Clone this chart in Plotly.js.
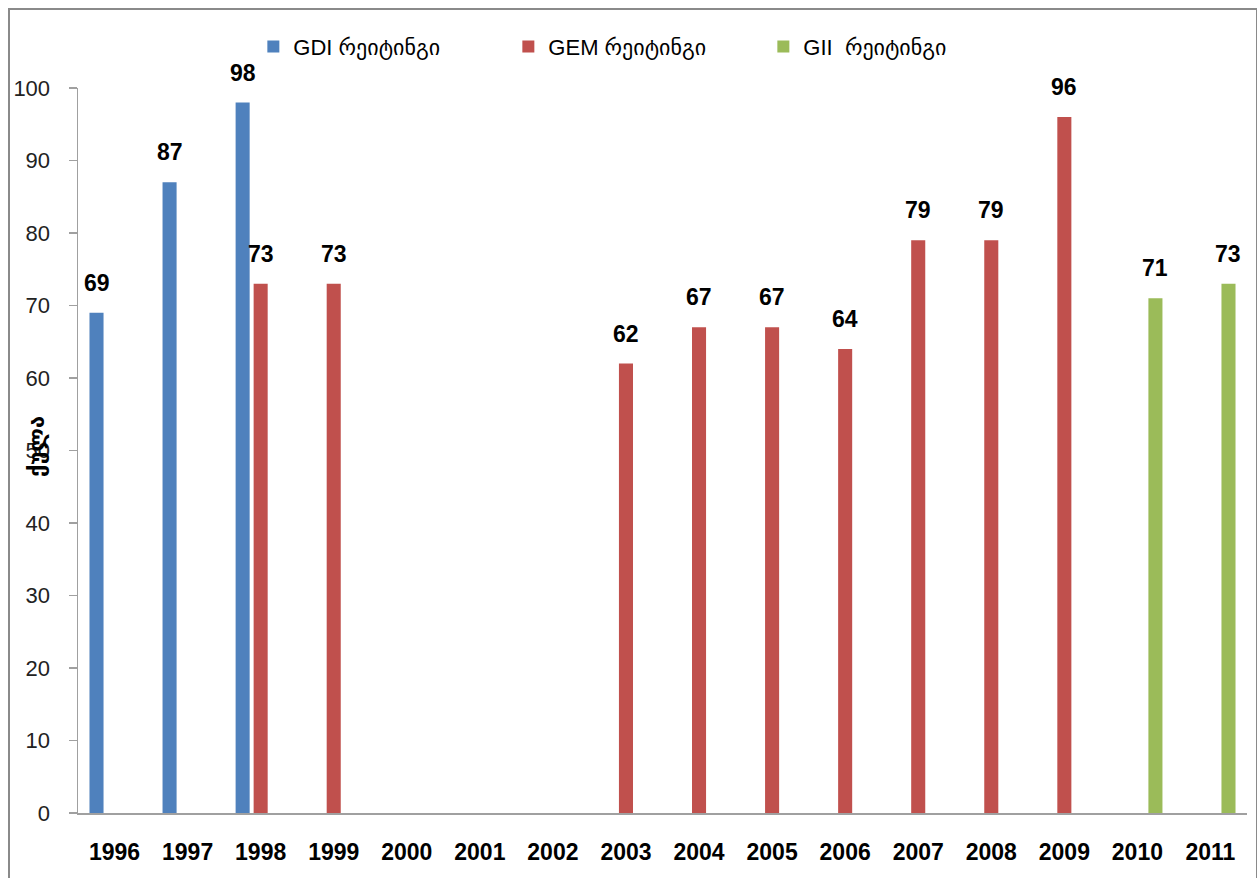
<!DOCTYPE html>
<html>
<head>
<meta charset="utf-8">
<script src="https://cdn.plot.ly/plotly-3.0.1.min.js"></script>
<style>
  html, body { margin: 0; padding: 0; background: #fff; overflow: hidden; }
  #chart { position: absolute; left: 0; top: 0; width: 1257px; height: 878px; }
  #frame { position: absolute; left: 8px; top: 8px; width: 1246px; height: 900px;
           border: 2px solid #8a8a8a; pointer-events: none; }
</style>
</head>
<body>
<div id="chart"></div>
<div id="frame"></div>
<script>
const years = ['1996','1997','1998','1999','2000','2001','2002','2003','2004','2005','2006','2007','2008','2009','2010','2011'];
const gdiValues = [69, 87, 98, null, null, null, null, null, null, null, null, null, null, null, null, null];
const gemValues = [null, null, 73, 73, null, null, null, 62, 67, 67, 64, 79, 79, 96, null, null];
const giiValues = [null, null, null, null, null, null, null, null, null, null, null, null, null, null, 71, 73];
const seriesNames = ['GDI რეიტინგი', 'GEM რეიტინგი', 'GII  რეიტინგი'];
const yTitle = 'ქულა';

const colors = ['#4F81BD', '#C0504D', '#9BBB59'];
const allSeries = [gdiValues, gemValues, giiValues];
const shifts = [-18, 0, 18];

const traces = allSeries.map((vals, i) => ({
  type: 'bar',
  name: seriesNames[i],
  x: years,
  y: vals,
  marker: { color: colors[i] },
  hoverinfo: 'x+y'
}));

const annotations = [];
allSeries.forEach((vals, i) => {
  vals.forEach((v, j) => {
    if (v !== null) {
      annotations.push({
        x: j, y: v, xref: 'x', yref: 'y',
        text: '<b>' + v + '</b>', showarrow: false,
        xshift: shifts[i], yshift: 30, yanchor: 'middle',
        font: { family: 'Liberation Sans, Arial, sans-serif', size: 23, color: '#000' }
      });
    }
  });
});
annotations.push({
  xref: 'paper', yref: 'paper', x: -0.035, y: 0.505, xanchor: 'center', yanchor: 'middle',
  text: '<b>' + yTitle + '</b>', textangle: -90, showarrow: false,
  font: { family: 'DejaVu Sans, sans-serif', size: 22, color: '#000' }
});

const layout = {
  width: 1257, height: 878,
  margin: { l: 78, r: 10, t: 88, b: 65 },
  paper_bgcolor: '#fff', plot_bgcolor: '#fff',
  barmode: 'group', bargap: 0.26, bargroupgap: 0.22,
  showlegend: true,
  legend: {
    orientation: 'h', x: 0.150, xanchor: 'left', y: 1.057, yanchor: 'middle',
    font: { family: 'Liberation Sans, DejaVu Sans, sans-serif', size: 22, color: '#000' },
    entrywidth: 210, entrywidthmode: 'pixels',
    itemclick: false, traceorder: 'normal'
  },
  xaxis: {
    type: 'category', categoryorder: 'array', categoryarray: years,
    range: [-0.5, years.length - 0.5], autorange: false,
    showline: true, linecolor: '#a0a0a0', linewidth: 1.5,
    ticks: '', showgrid: false, zeroline: false,
    tickfont: { family: 'Liberation Sans, Arial, sans-serif', size: 23, color: '#000', weight: 'bold' },
    ticklabelstandoff: 18
  },
  yaxis: {
    range: [0, 100], dtick: 10, tick0: 0, autorange: false,
    showline: true, linecolor: '#a0a0a0', linewidth: 1.5,
    ticks: 'outside', ticklen: 8, tickcolor: '#a0a0a0', tickwidth: 1.5,
    showgrid: false, zeroline: false,
    tickfont: { family: 'Liberation Sans, Arial, sans-serif', size: 22, color: '#222' },
    ticklabelstandoff: 14
  },
  annotations: annotations
};

Plotly.newPlot('chart', traces, layout, { displayModeBar: false, staticPlot: true });
</script>
</body>
</html>
